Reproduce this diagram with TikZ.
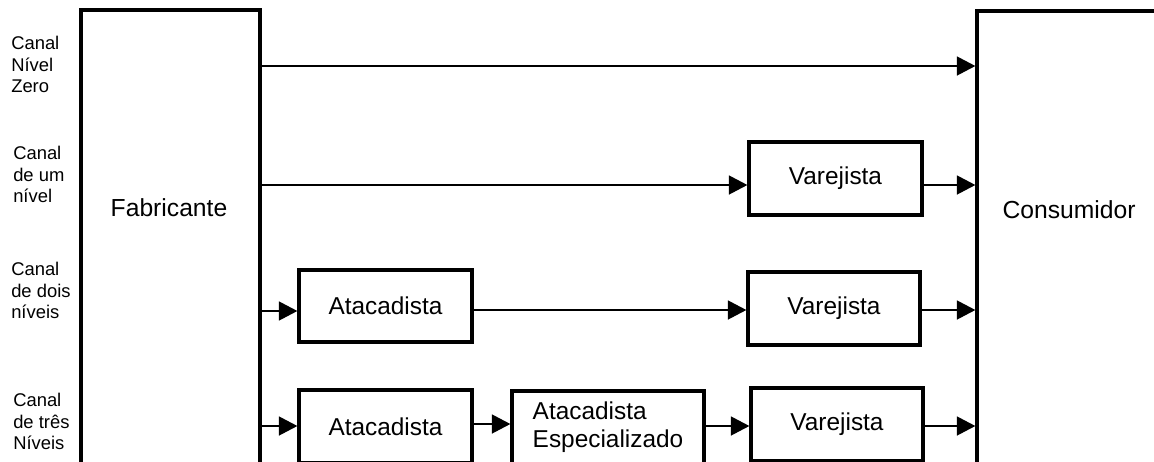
\documentclass[tikz,border=0pt]{standalone}
\usepackage{fontspec}
\setmainfont{Liberation Sans}
\usetikzlibrary{arrows.meta}
\begin{document}
\begin{tikzpicture}[x=0.75pt,y=-0.75pt,
  box/.style={draw,line width=2.3pt,inner sep=0pt,font=\fontsize{18.3}{21}\selectfont},
  big/.style={font=\fontsize{18.5}{21}\selectfont,inner sep=0pt},
  conn/.style={line width=2.2pt,-{Triangle[length=14pt,width=14pt]}},
  chan/.style={anchor=west,align=left,font=\fontsize{13.8}{16.1}\selectfont,inner sep=0pt}]
\useasboundingbox (0,0) rectangle (1154,461);
\clip (0,0) rectangle (1154,461);
% big boxes
\node[box,minimum width=134.25pt,minimum height=360pt] (fab) at (170.5,250) {};
\node[big] (fabt) at (169,208) {Fabricante};
\node[box,minimum width=167.25pt,minimum height=360pt] (con) at (1088.5,251) {};
\node[big] (cont) at (1069,210) {Consumidor};
% channel labels
\node[chan] (l1) at (11,64.5) {Canal\\Nível\\Zero};
\node[chan] (l2) at (13,174.5) {Canal\\de um\\nível};
\node[chan] (l3) at (11,290.5) {Canal\\de dois\\níveis};
\node[chan] (l4) at (13,421.5) {Canal\\de três\\Níveis};
% intermediary boxes
\node[box,minimum width=129.75pt,minimum height=54.75pt] (var1) at (835.5,178.5) {Varejista};
\node[box,minimum width=129.75pt,minimum height=54pt] (ata1) at (385.5,306) {Atacadista};
\node[box,minimum width=129pt,minimum height=54.75pt] (var2) at (834,308.5) {Varejista};
\node[box,minimum width=129.75pt,minimum height=54.75pt] (ata2) at (385.5,426.5) {Atacadista};
\node[box,minimum width=144pt,minimum height=54.75pt,align=left] (esp) at (608,427.5) {Atacadista\\Especializado};
\node[box,minimum width=129pt,minimum height=54.75pt] (var3) at (837,424.5) {Varejista};
% row 1
\draw[conn] (fab.east |- 0,66) -- (con.west |- 0,66);
% row 2
\draw[conn] (fab.east |- 0,185) -- (var1.west |- 0,185);
\draw[conn] (var1.east |- 0,185) -- (con.west |- 0,185);
% row 3
\draw[conn] (fab.east |- 0,311) -- (ata1.west |- 0,311);
\draw[conn] (ata1.east |- 0,310) -- (var2.west |- 0,310);
\draw[conn] (var2.east |- 0,310) -- (con.west |- 0,310);
% row 4
\draw[conn] (fab.east |- 0,426) -- (ata2.west |- 0,426);
\draw[conn] (ata2.east |- 0,424) -- (esp.west |- 0,424);
\draw[conn] (esp.east |- 0,426) -- (var3.west |- 0,426);
\draw[conn] (var3.east |- 0,426) -- (con.west |- 0,426);
\end{tikzpicture}
\end{document}
